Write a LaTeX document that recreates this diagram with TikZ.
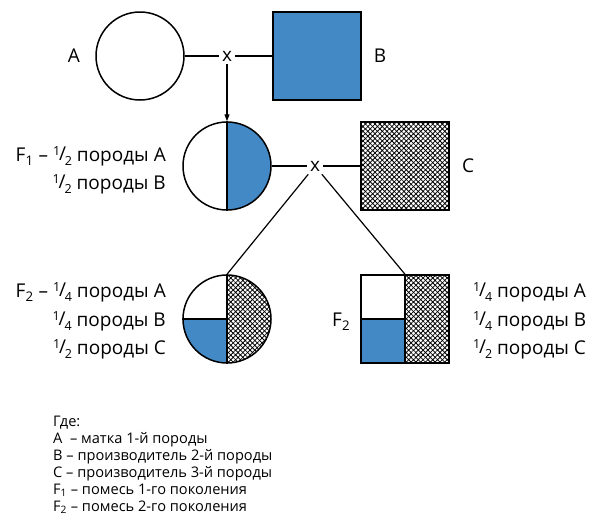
\documentclass[tikz,border=0pt]{standalone}
\usepackage{fontspec}
\setmainfont{Open Sans}
\usetikzlibrary{patterns.meta,arrows.meta}
\definecolor{breedblue}{RGB}{66,137,198}
\newcommand\frc[2]{\raisebox{0.58ex}{\fontsize{12.5}{12.5}\selectfont #1}\kern-0.06em\raisebox{0.05ex}{/}\kern-0.06em\raisebox{-0.4ex}{\fontsize{12.5}{12.5}\selectfont #2}}
\tikzset{
 shapeline/.style={line width=1.5pt},
 circ/.style={circle, draw, shapeline, minimum size=88pt, inner sep=0pt},
 sq/.style={rectangle, draw, shapeline, minimum size=88pt, inner sep=0pt},
 cross/.style={inner sep=3pt, font=\fontsize{19}{19}\selectfont},
 lab/.style={font=\fontsize{19}{19}\selectfont, inner sep=0pt},
 conn/.style={line width=1.2pt},
 hatchA/.style={pattern={Lines[angle=45,distance=3.4pt,line width=0.8pt]}},
 hatchB/.style={pattern={Lines[angle=-45,distance=3.4pt,line width=0.8pt]}},
 legend/.style={font=\fontsize{14.6}{14.6}\selectfont, anchor=base west, inner sep=0pt},
}
\begin{document}
\begin{tikzpicture}[x=1pt,y=-1pt]
\useasboundingbox (0,0) rectangle (600,528);
% fills
\begin{scope}
 \clip (227,100) rectangle (300,230);
 \fill[breedblue] (227,166) circle (44pt);
\end{scope}
\path[hatchA] (361,122) rectangle (449,210);
\path[hatchB] (361,122) rectangle (449,210);
\begin{scope}
 \clip (227,250) rectangle (300,380);
 \path[hatchA] (227,319) circle (44pt);
 \path[hatchB] (227,319) circle (44pt);
\end{scope}
\begin{scope}
 \clip (150,319) rectangle (227,380);
 \fill[breedblue] (227,319) circle (44pt);
\end{scope}
\fill[breedblue] (361,319) rectangle (405,363);
\path[hatchA] (405,275) rectangle (449,363);
\path[hatchB] (405,275) rectangle (449,363);
% nodes
\node[circ] (A) at (140,56) {};
\node[sq, fill=breedblue] (B) at (317,56) {};
\node[cross] (x1) at (227,56) {x};
\node[circ] (F1) at (227,166) {};
\node[sq] (C) at (405,166) {};
\node[cross] (x2) at (315,166) {x};
\node[circ] (F2c) at (227,319) {};
\node[sq] (F2s) at (405,319) {};
% dividers
\draw[shapeline] (F1.north) -- (F1.south);
\draw[shapeline] (F2c.north) -- (F2c.south);
\draw[shapeline] (F2c.west) -- (F2c.center);
\draw[shapeline] (F2s.north) -- (F2s.south);
\draw[shapeline] (F2s.west) -- (F2s.center);
% connectors
\draw[conn] (A) -- (x1);
\draw[conn] (x1) -- (B);
\draw[conn, -{Triangle[length=7pt,width=5pt]}] (x1) -- (F1);
\draw[conn] (F1) -- (x2);
\draw[conn] (x2) -- (C);
\draw[conn] (x2) -- (F2c.north);
\draw[conn] (x2) -- (F2s.north);
% labels
\node[lab] (lA) at (74,56) {A};
\node[lab] (lB) at (380,56) {B};
\node[lab] (lC) at (468,166) {C};
\node[lab, anchor=base east] (f1a) at (166,161.5) {F\textsubscript{1} – \frc12 породы A};
\node[lab, anchor=base east] (f1b) at (166,189) {\frc12 породы B};
\node[lab, anchor=base east] (f2a) at (166,297.5) {F\textsubscript{2} – \frc14 породы A};
\node[lab, anchor=base east] (f2b) at (166,326.5) {\frc14 породы B};
\node[lab, anchor=base east] (f2c) at (166,354.5) {\frc12 породы C};
\node[lab, anchor=base west] (g2) at (332,326.5) {F\textsubscript{2}};
\node[lab, anchor=base west] (r2a) at (473,297.5) {\frc14 породы A};
\node[lab, anchor=base west] (r2b) at (473,326.5) {\frc14 породы B};
\node[lab, anchor=base west] (r2c) at (473,354.5) {\frc12 породы C};
% legend
\node[legend] (L0) at (53,426.5) {Где:};
\node[legend] (L1) at (53,443.5) {A\ \ – матка 1-й породы};
\node[legend] (L2) at (53,460.5) {B – производитель 2-й породы};
\node[legend] (L3) at (53,477.5) {C – производитель 3-й породы};
\node[legend] (L4) at (53,494.5) {F\textsubscript{1} – помесь 1-го поколения};
\node[legend] (L5) at (53,511.5) {F\textsubscript{2} – помесь 2-го поколения};
\end{tikzpicture}
\end{document}
